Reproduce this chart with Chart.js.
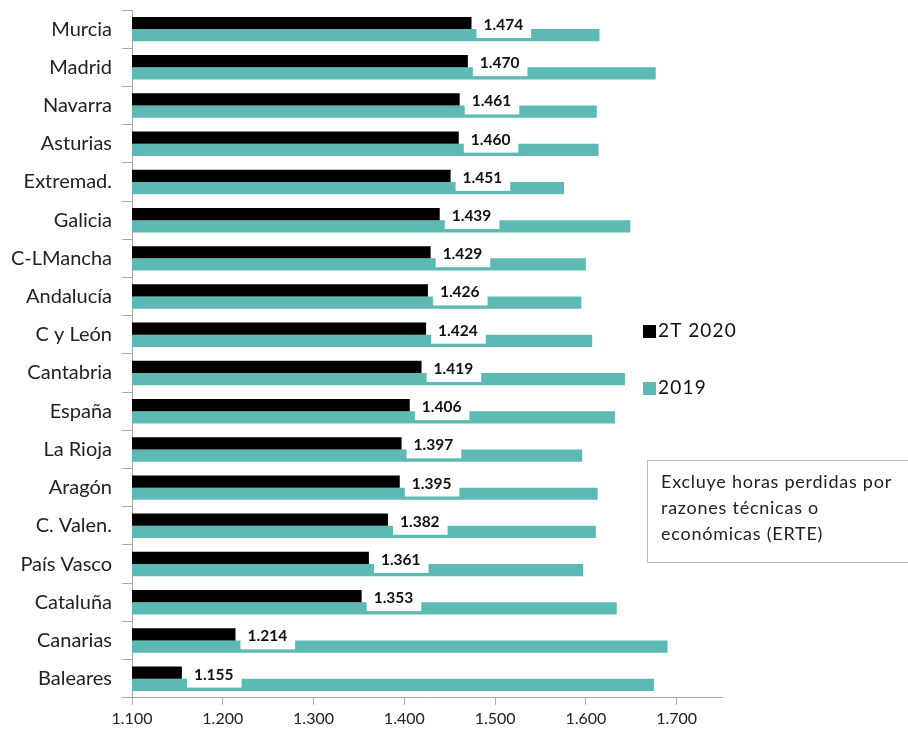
<!DOCTYPE html>
<html>
<head>
<meta charset="utf-8">
<script src="https://cdn.jsdelivr.net/npm/chart.js@4.4.0/dist/chart.umd.min.js"></script>
<style>
  body { margin: 0; background: #fff; font-family: Lato, sans-serif; }
  #wrap { position: relative; width: 908px; height: 737px; }
  .leg { position: absolute; left: 643px; font-size: 19px; letter-spacing: 1.2px; color: #111; line-height: 20px; }
  .leg span { display: inline-block; width: 13px; height: 13px; margin-right: 2px; vertical-align: -1px; }
  #note { position: absolute; left: 647px; top: 460px; width: 280px; height: 103px;
          border: 1px solid #bbb; box-sizing: border-box; padding: 7px 0 0 13px;
          font-size: 18px; letter-spacing: 0.75px; line-height: 26px; color: #222; }
</style>
</head>
<body>
<div id="wrap">
  <canvas id="chartHoras" width="908" height="737"></canvas>
  <div class="leg" style="top:320px"><span style="background:#000"></span>2T 2020</div>
  <div class="leg" style="top:377px"><span style="background:#5db9b3"></span>2019</div>
  <div id="note">Excluye horas perdidas por<br>razones técnicas o<br>económicas (ERTE)</div>
</div>
<script>
// regiones, ordenadas por horas del 2T 2020
let regiones = ["Murcia", "Madrid", "Navarra", "Asturias", "Extremad.", "Galicia", "C-LMancha",
  "Andalucía", "C y León", "Cantabria", "España", "La Rioja", "Aragón", "C. Valen.",
  "País Vasco", "Cataluña", "Canarias", "Baleares"];

let horas2T2020 = [1474, 1470, 1461, 1460, 1451, 1439, 1429, 1426, 1424, 1419, 1406, 1397,
  1395, 1382, 1361, 1353, 1214, 1155];

let horas2019 = [1615, 1677, 1612, 1614, 1576, 1649, 1600, 1595, 1607, 1643, 1632, 1596,
  1613, 1611, 1597, 1634, 1690, 1675];

let ticksX = [1100, 1200, 1300, 1400, 1500, 1600, 1700];

function miles(v) {
  let s = String(Math.round(v));
  return s.length > 3 ? s.slice(0, -3) + "." + s.slice(-3) : s;
}

/* etiquetas blancas con el valor de 2T 2020 */
let etiquetas = {
  id: "etiquetas",
  afterDatasetsDraw: function(chart) {
    let ctx = chart.ctx;
    let meta = chart.getDatasetMeta(0);
    ctx.save();
    ctx.font = "bold 15.5px Lato";
    ctx.textBaseline = "middle";
    meta.data.forEach(function(bar, i) {
      let txt = miles(horas2T2020[i]);
      let w = ctx.measureText(txt).width;
      let x0 = bar.x + 5;
      ctx.fillStyle = "#fff";
      ctx.fillRect(x0, bar.y - 6, w + 15, 21);
      ctx.fillStyle = "#111";
      ctx.fillText(txt, x0 + 7, bar.y + 2);
    });
    ctx.restore();
  }
};

let ctx = document.getElementById("chartHoras").getContext("2d");

let horasChart = new Chart(ctx, {
  type: "bar",
  data: {
    labels: regiones,
    datasets: [
      { label: "2T 2020", data: horas2T2020, backgroundColor: "#000" },
      { label: "2019", data: horas2019, backgroundColor: "#5db9b3" }
    ]
  },
  options: {
    indexAxis: "y",
    responsive: false,
    animation: false,
    datasets: { bar: { categoryPercentage: 0.64, barPercentage: 1.0 } },
    layout: { padding: { top: 10, left: 10, right: 186, bottom: 5 } },
    plugins: { legend: { display: false }, tooltip: { enabled: false } },
    scales: {
      x: {
        min: 1100, max: 1750,
        afterBuildTicks: function(s) { s.ticks = ticksX.map(function(v) { return { value: v }; }); },
        grid: { drawOnChartArea: false, tickLength: 7, color: "#aaa" },
        border: { color: "#aaa" },
        ticks: { color: "#222", font: { family: "Lato", size: 16 }, padding: 4, maxRotation: 0,
                 callback: function(v) { return miles(v); } }
      },
      y: {
        afterFit: function(s) { s.width = 122; s.paddingTop = 0; s.paddingBottom = 0; },
        grid: { drawOnChartArea: false, tickLength: 10, color: "#aaa", offset: true },
        border: { color: "#aaa" },
        ticks: { color: "#222", font: { family: "Lato", size: 20 }, padding: 10, autoSkip: false }
      }
    }
  },
  plugins: [etiquetas]
});
</script>
</body>
</html>
